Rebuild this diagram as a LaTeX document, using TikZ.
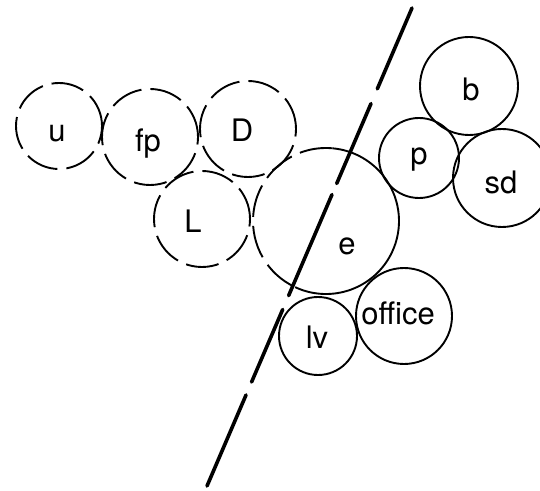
\documentclass[tikz,border=0pt]{standalone}
\usepackage{fontspec}
\setmainfont{TeX Gyre Heros}
\begin{document}
\begin{tikzpicture}[x=1pt,y=1pt,
  ring/.style={circle,draw,line width=1.9pt,inner sep=0pt,outer sep=0pt},
  dring/.style={ring,dash pattern=on 33pt off 9pt},
  lab/.style={anchor=base,inner sep=0pt,font=\fontsize{31}{36}\selectfont},
  splitline/.style={line width=3.6pt,line cap=round,
    dash pattern=on 88pt off 16pt on 87pt off 12pt on 110pt off 15pt on 79pt off 14pt on 110pt off 20pt}]
\useasboundingbox (0,0) rectangle (540,490);
\clip (0,0) rectangle (540,490);
% dashed circles
\node[dring,minimum size=86pt] (u) at (59,364) {};
\node[dring,minimum size=96pt] (fp) at (150,353) {};
\node[dring,minimum size=96pt] (D) at (248,361) {};
\node[dring,minimum size=96pt] (L) at (202,271) {};
% e: half dashed, half solid
\node[circle,inner sep=0pt,outer sep=0pt,minimum size=146pt] (e) at (326,269) {};
\draw[line width=1.9pt,dash pattern=on 33pt off 9pt] (e.85) arc[start angle=85,end angle=245,radius=73pt];
\draw[line width=1.9pt] (e.245) arc[start angle=245,end angle=445,radius=73pt];
% solid circles
\node[ring,minimum size=80pt] (p) at (419,332) {};
\node[ring,minimum size=98pt] (b) at (469,404) {};
\node[ring,minimum size=98pt] (sd) at (502,312) {};
\node[ring,minimum size=78pt] (lv) at (318,154) {};
\node[ring,minimum size=96pt] (office) at (404,174) {};
% labels
\node[lab] (ut) at (57,348) {u};
\node[lab] (fpt) at (148,338) {fp};
\node[lab] (Dt) at (242,348) {D};
\node[lab] (Lt) at (193,257) {L};
\node[lab] (et) at (347,235) {e};
\node[lab] (pt) at (419,325) {p};
\node[lab] (bt) at (471,389) {b};
\node[lab] (sdt) at (501,296) {sd};
\node[lab] (lvt) at (317,142) {lv};
\node[lab] (officet) at (398,165) {office};
% dividing line
\coordinate (lt) at (412,482);
\coordinate (lb) at (207,4);
\draw[splitline] (lt) -- (lb);
\end{tikzpicture}
\end{document}
